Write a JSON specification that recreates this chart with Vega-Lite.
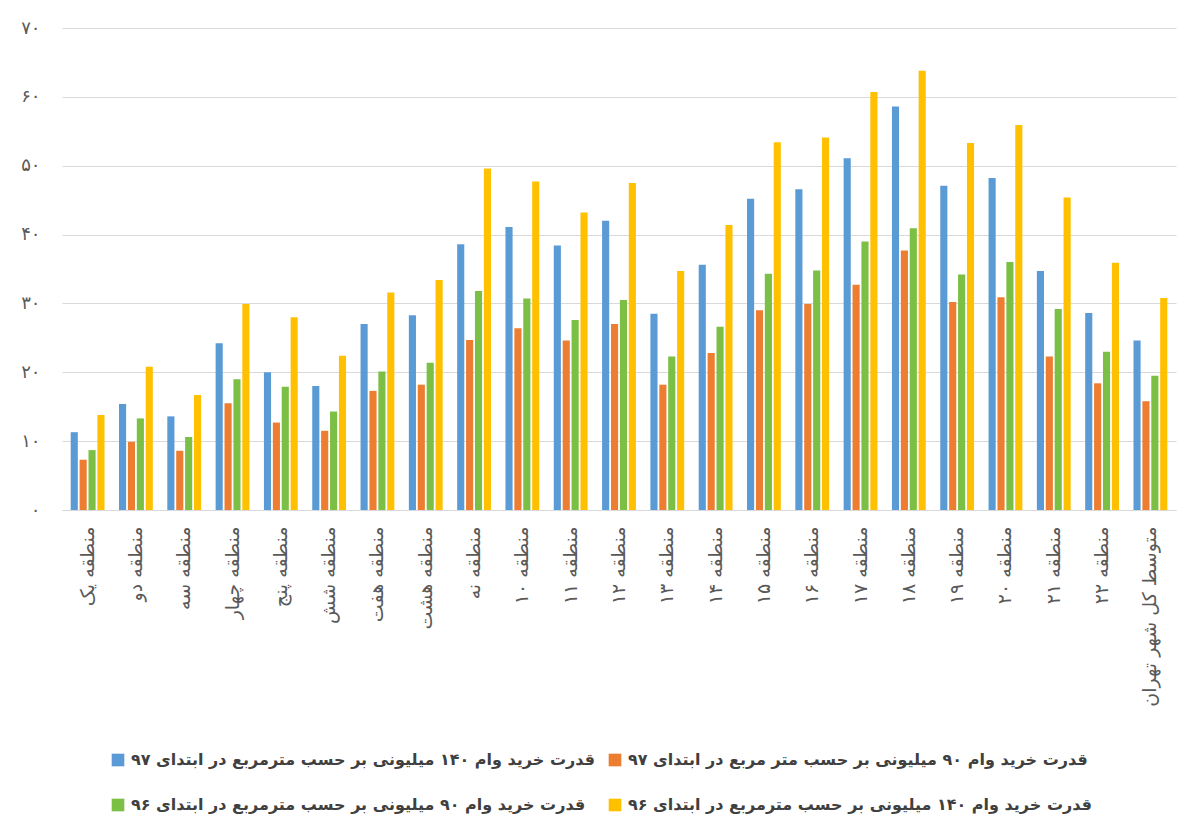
{
  "$schema": "https://vega.github.io/schema/vega-lite/v6.json",
  "autosize": "none",
  "width": 1114,
  "height": 482,
  "padding": {"left": 62, "top": 28, "right": 24, "bottom": 330},
  "background": "#ffffff",
  "config": {
    "view": {"stroke": null},
    "font": "DejaVu Sans",
    "axis": {"labelFont": "DejaVu Sans", "labelColor": "#595959", "gridColor": "#d9d9d9", "domainColor": "#d9d9d9"},
    "legend": {"labelFont": "DejaVu Sans", "labelColor": "#404040"}
  },
  "data": {
    "values": [
      {"region": "منطقه یک", "series": "قدرت خرید وام ۱۴۰ میلیونی بر حسب مترمربع در ابتدای ۹۷", "value": 11.3},
      {"region": "منطقه یک", "series": "قدرت خرید وام ۹۰ میلیونی بر حسب متر مربع در ابتدای ۹۷", "value": 7.3},
      {"region": "منطقه یک", "series": "قدرت خرید وام ۹۰ میلیونی بر حسب مترمربع در ابتدای ۹۶", "value": 8.7},
      {"region": "منطقه یک", "series": "قدرت خرید وام ۱۴۰ میلیونی بر حسب مترمربع در ابتدای ۹۶", "value": 13.8},
      {"region": "منطقه دو", "series": "قدرت خرید وام ۱۴۰ میلیونی بر حسب مترمربع در ابتدای ۹۷", "value": 15.4},
      {"region": "منطقه دو", "series": "قدرت خرید وام ۹۰ میلیونی بر حسب متر مربع در ابتدای ۹۷", "value": 9.9},
      {"region": "منطقه دو", "series": "قدرت خرید وام ۹۰ میلیونی بر حسب مترمربع در ابتدای ۹۶", "value": 13.3},
      {"region": "منطقه دو", "series": "قدرت خرید وام ۱۴۰ میلیونی بر حسب مترمربع در ابتدای ۹۶", "value": 20.8},
      {"region": "منطقه سه", "series": "قدرت خرید وام ۱۴۰ میلیونی بر حسب مترمربع در ابتدای ۹۷", "value": 13.6},
      {"region": "منطقه سه", "series": "قدرت خرید وام ۹۰ میلیونی بر حسب متر مربع در ابتدای ۹۷", "value": 8.6},
      {"region": "منطقه سه", "series": "قدرت خرید وام ۹۰ میلیونی بر حسب مترمربع در ابتدای ۹۶", "value": 10.6},
      {"region": "منطقه سه", "series": "قدرت خرید وام ۱۴۰ میلیونی بر حسب مترمربع در ابتدای ۹۶", "value": 16.7},
      {"region": "منطقه چهار", "series": "قدرت خرید وام ۱۴۰ میلیونی بر حسب مترمربع در ابتدای ۹۷", "value": 24.2},
      {"region": "منطقه چهار", "series": "قدرت خرید وام ۹۰ میلیونی بر حسب متر مربع در ابتدای ۹۷", "value": 15.5},
      {"region": "منطقه چهار", "series": "قدرت خرید وام ۹۰ میلیونی بر حسب مترمربع در ابتدای ۹۶", "value": 19.0},
      {"region": "منطقه چهار", "series": "قدرت خرید وام ۱۴۰ میلیونی بر حسب مترمربع در ابتدای ۹۶", "value": 29.9},
      {"region": "منطقه پنج", "series": "قدرت خرید وام ۱۴۰ میلیونی بر حسب مترمربع در ابتدای ۹۷", "value": 20.0},
      {"region": "منطقه پنج", "series": "قدرت خرید وام ۹۰ میلیونی بر حسب متر مربع در ابتدای ۹۷", "value": 12.7},
      {"region": "منطقه پنج", "series": "قدرت خرید وام ۹۰ میلیونی بر حسب مترمربع در ابتدای ۹۶", "value": 17.9},
      {"region": "منطقه پنج", "series": "قدرت خرید وام ۱۴۰ میلیونی بر حسب مترمربع در ابتدای ۹۶", "value": 28.0},
      {"region": "منطقه شش", "series": "قدرت خرید وام ۱۴۰ میلیونی بر حسب مترمربع در ابتدای ۹۷", "value": 18.0},
      {"region": "منطقه شش", "series": "قدرت خرید وام ۹۰ میلیونی بر حسب متر مربع در ابتدای ۹۷", "value": 11.5},
      {"region": "منطقه شش", "series": "قدرت خرید وام ۹۰ میلیونی بر حسب مترمربع در ابتدای ۹۶", "value": 14.3},
      {"region": "منطقه شش", "series": "قدرت خرید وام ۱۴۰ میلیونی بر حسب مترمربع در ابتدای ۹۶", "value": 22.4},
      {"region": "منطقه هفت", "series": "قدرت خرید وام ۱۴۰ میلیونی بر حسب مترمربع در ابتدای ۹۷", "value": 27.0},
      {"region": "منطقه هفت", "series": "قدرت خرید وام ۹۰ میلیونی بر حسب متر مربع در ابتدای ۹۷", "value": 17.3},
      {"region": "منطقه هفت", "series": "قدرت خرید وام ۹۰ میلیونی بر حسب مترمربع در ابتدای ۹۶", "value": 20.1},
      {"region": "منطقه هفت", "series": "قدرت خرید وام ۱۴۰ میلیونی بر حسب مترمربع در ابتدای ۹۶", "value": 31.6},
      {"region": "منطقه هشت", "series": "قدرت خرید وام ۱۴۰ میلیونی بر حسب مترمربع در ابتدای ۹۷", "value": 28.3},
      {"region": "منطقه هشت", "series": "قدرت خرید وام ۹۰ میلیونی بر حسب متر مربع در ابتدای ۹۷", "value": 18.2},
      {"region": "منطقه هشت", "series": "قدرت خرید وام ۹۰ میلیونی بر حسب مترمربع در ابتدای ۹۶", "value": 21.4},
      {"region": "منطقه هشت", "series": "قدرت خرید وام ۱۴۰ میلیونی بر حسب مترمربع در ابتدای ۹۶", "value": 33.4},
      {"region": "منطقه نه", "series": "قدرت خرید وام ۱۴۰ میلیونی بر حسب مترمربع در ابتدای ۹۷", "value": 38.6},
      {"region": "منطقه نه", "series": "قدرت خرید وام ۹۰ میلیونی بر حسب متر مربع در ابتدای ۹۷", "value": 24.7},
      {"region": "منطقه نه", "series": "قدرت خرید وام ۹۰ میلیونی بر حسب مترمربع در ابتدای ۹۶", "value": 31.8},
      {"region": "منطقه نه", "series": "قدرت خرید وام ۱۴۰ میلیونی بر حسب مترمربع در ابتدای ۹۶", "value": 49.6},
      {"region": "منطقه ۱۰", "series": "قدرت خرید وام ۱۴۰ میلیونی بر حسب مترمربع در ابتدای ۹۷", "value": 41.1},
      {"region": "منطقه ۱۰", "series": "قدرت خرید وام ۹۰ میلیونی بر حسب متر مربع در ابتدای ۹۷", "value": 26.4},
      {"region": "منطقه ۱۰", "series": "قدرت خرید وام ۹۰ میلیونی بر حسب مترمربع در ابتدای ۹۶", "value": 30.7},
      {"region": "منطقه ۱۰", "series": "قدرت خرید وام ۱۴۰ میلیونی بر حسب مترمربع در ابتدای ۹۶", "value": 47.7},
      {"region": "منطقه ۱۱", "series": "قدرت خرید وام ۱۴۰ میلیونی بر حسب مترمربع در ابتدای ۹۷", "value": 38.4},
      {"region": "منطقه ۱۱", "series": "قدرت خرید وام ۹۰ میلیونی بر حسب متر مربع در ابتدای ۹۷", "value": 24.6},
      {"region": "منطقه ۱۱", "series": "قدرت خرید وام ۹۰ میلیونی بر حسب مترمربع در ابتدای ۹۶", "value": 27.6},
      {"region": "منطقه ۱۱", "series": "قدرت خرید وام ۱۴۰ میلیونی بر حسب مترمربع در ابتدای ۹۶", "value": 43.2},
      {"region": "منطقه ۱۲", "series": "قدرت خرید وام ۱۴۰ میلیونی بر حسب مترمربع در ابتدای ۹۷", "value": 42.0},
      {"region": "منطقه ۱۲", "series": "قدرت خرید وام ۹۰ میلیونی بر حسب متر مربع در ابتدای ۹۷", "value": 27.0},
      {"region": "منطقه ۱۲", "series": "قدرت خرید وام ۹۰ میلیونی بر حسب مترمربع در ابتدای ۹۶", "value": 30.5},
      {"region": "منطقه ۱۲", "series": "قدرت خرید وام ۱۴۰ میلیونی بر حسب مترمربع در ابتدای ۹۶", "value": 47.5},
      {"region": "منطقه ۱۳", "series": "قدرت خرید وام ۱۴۰ میلیونی بر حسب مترمربع در ابتدای ۹۷", "value": 28.5},
      {"region": "منطقه ۱۳", "series": "قدرت خرید وام ۹۰ میلیونی بر حسب متر مربع در ابتدای ۹۷", "value": 18.2},
      {"region": "منطقه ۱۳", "series": "قدرت خرید وام ۹۰ میلیونی بر حسب مترمربع در ابتدای ۹۶", "value": 22.3},
      {"region": "منطقه ۱۳", "series": "قدرت خرید وام ۱۴۰ میلیونی بر حسب مترمربع در ابتدای ۹۶", "value": 34.7},
      {"region": "منطقه ۱۴", "series": "قدرت خرید وام ۱۴۰ میلیونی بر حسب مترمربع در ابتدای ۹۷", "value": 35.6},
      {"region": "منطقه ۱۴", "series": "قدرت خرید وام ۹۰ میلیونی بر حسب متر مربع در ابتدای ۹۷", "value": 22.8},
      {"region": "منطقه ۱۴", "series": "قدرت خرید وام ۹۰ میلیونی بر حسب مترمربع در ابتدای ۹۶", "value": 26.6},
      {"region": "منطقه ۱۴", "series": "قدرت خرید وام ۱۴۰ میلیونی بر حسب مترمربع در ابتدای ۹۶", "value": 41.4},
      {"region": "منطقه ۱۵", "series": "قدرت خرید وام ۱۴۰ میلیونی بر حسب مترمربع در ابتدای ۹۷", "value": 45.2},
      {"region": "منطقه ۱۵", "series": "قدرت خرید وام ۹۰ میلیونی بر حسب متر مربع در ابتدای ۹۷", "value": 29.0},
      {"region": "منطقه ۱۵", "series": "قدرت خرید وام ۹۰ میلیونی بر حسب مترمربع در ابتدای ۹۶", "value": 34.3},
      {"region": "منطقه ۱۵", "series": "قدرت خرید وام ۱۴۰ میلیونی بر حسب مترمربع در ابتدای ۹۶", "value": 53.4},
      {"region": "منطقه ۱۶", "series": "قدرت خرید وام ۱۴۰ میلیونی بر حسب مترمربع در ابتدای ۹۷", "value": 46.6},
      {"region": "منطقه ۱۶", "series": "قدرت خرید وام ۹۰ میلیونی بر حسب متر مربع در ابتدای ۹۷", "value": 29.9},
      {"region": "منطقه ۱۶", "series": "قدرت خرید وام ۹۰ میلیونی بر حسب مترمربع در ابتدای ۹۶", "value": 34.8},
      {"region": "منطقه ۱۶", "series": "قدرت خرید وام ۱۴۰ میلیونی بر حسب مترمربع در ابتدای ۹۶", "value": 54.1},
      {"region": "منطقه ۱۷", "series": "قدرت خرید وام ۱۴۰ میلیونی بر حسب مترمربع در ابتدای ۹۷", "value": 51.1},
      {"region": "منطقه ۱۷", "series": "قدرت خرید وام ۹۰ میلیونی بر حسب متر مربع در ابتدای ۹۷", "value": 32.7},
      {"region": "منطقه ۱۷", "series": "قدرت خرید وام ۹۰ میلیونی بر حسب مترمربع در ابتدای ۹۶", "value": 39.0},
      {"region": "منطقه ۱۷", "series": "قدرت خرید وام ۱۴۰ میلیونی بر حسب مترمربع در ابتدای ۹۶", "value": 60.7},
      {"region": "منطقه ۱۸", "series": "قدرت خرید وام ۱۴۰ میلیونی بر حسب مترمربع در ابتدای ۹۷", "value": 58.6},
      {"region": "منطقه ۱۸", "series": "قدرت خرید وام ۹۰ میلیونی بر حسب متر مربع در ابتدای ۹۷", "value": 37.7},
      {"region": "منطقه ۱۸", "series": "قدرت خرید وام ۹۰ میلیونی بر حسب مترمربع در ابتدای ۹۶", "value": 40.9},
      {"region": "منطقه ۱۸", "series": "قدرت خرید وام ۱۴۰ میلیونی بر حسب مترمربع در ابتدای ۹۶", "value": 63.8},
      {"region": "منطقه ۱۹", "series": "قدرت خرید وام ۱۴۰ میلیونی بر حسب مترمربع در ابتدای ۹۷", "value": 47.1},
      {"region": "منطقه ۱۹", "series": "قدرت خرید وام ۹۰ میلیونی بر حسب متر مربع در ابتدای ۹۷", "value": 30.2},
      {"region": "منطقه ۱۹", "series": "قدرت خرید وام ۹۰ میلیونی بر حسب مترمربع در ابتدای ۹۶", "value": 34.2},
      {"region": "منطقه ۱۹", "series": "قدرت خرید وام ۱۴۰ میلیونی بر حسب مترمربع در ابتدای ۹۶", "value": 53.3},
      {"region": "منطقه ۲۰", "series": "قدرت خرید وام ۱۴۰ میلیونی بر حسب مترمربع در ابتدای ۹۷", "value": 48.2},
      {"region": "منطقه ۲۰", "series": "قدرت خرید وام ۹۰ میلیونی بر حسب متر مربع در ابتدای ۹۷", "value": 30.9},
      {"region": "منطقه ۲۰", "series": "قدرت خرید وام ۹۰ میلیونی بر حسب مترمربع در ابتدای ۹۶", "value": 36.0},
      {"region": "منطقه ۲۰", "series": "قدرت خرید وام ۱۴۰ میلیونی بر حسب مترمربع در ابتدای ۹۶", "value": 55.9},
      {"region": "منطقه ۲۱", "series": "قدرت خرید وام ۱۴۰ میلیونی بر حسب مترمربع در ابتدای ۹۷", "value": 34.7},
      {"region": "منطقه ۲۱", "series": "قدرت خرید وام ۹۰ میلیونی بر حسب متر مربع در ابتدای ۹۷", "value": 22.3},
      {"region": "منطقه ۲۱", "series": "قدرت خرید وام ۹۰ میلیونی بر حسب مترمربع در ابتدای ۹۶", "value": 29.2},
      {"region": "منطقه ۲۱", "series": "قدرت خرید وام ۱۴۰ میلیونی بر حسب مترمربع در ابتدای ۹۶", "value": 45.4},
      {"region": "منطقه ۲۲", "series": "قدرت خرید وام ۱۴۰ میلیونی بر حسب مترمربع در ابتدای ۹۷", "value": 28.6},
      {"region": "منطقه ۲۲", "series": "قدرت خرید وام ۹۰ میلیونی بر حسب متر مربع در ابتدای ۹۷", "value": 18.4},
      {"region": "منطقه ۲۲", "series": "قدرت خرید وام ۹۰ میلیونی بر حسب مترمربع در ابتدای ۹۶", "value": 23.0},
      {"region": "منطقه ۲۲", "series": "قدرت خرید وام ۱۴۰ میلیونی بر حسب مترمربع در ابتدای ۹۶", "value": 35.9},
      {"region": "متوسط کل شهر تهران", "series": "قدرت خرید وام ۱۴۰ میلیونی بر حسب مترمربع در ابتدای ۹۷", "value": 24.6},
      {"region": "متوسط کل شهر تهران", "series": "قدرت خرید وام ۹۰ میلیونی بر حسب متر مربع در ابتدای ۹۷", "value": 15.8},
      {"region": "متوسط کل شهر تهران", "series": "قدرت خرید وام ۹۰ میلیونی بر حسب مترمربع در ابتدای ۹۶", "value": 19.5},
      {"region": "متوسط کل شهر تهران", "series": "قدرت خرید وام ۱۴۰ میلیونی بر حسب مترمربع در ابتدای ۹۶", "value": 30.8}
    ]
  },
  "mark": {"type": "bar"},
  "encoding": {
    "x": {
      "field": "region",
      "type": "nominal",
      "sort": null,
      "scale": {"paddingInner": 0.3, "paddingOuter": 0.18},
      "axis": {
        "title": null,
        "labelAngle": -90,
        "labelFontSize": 19,
        "labelPadding": 16,
        "ticks": false,
        "domain": true,
        "labelLimit": 300
      }
    },
    "xOffset": {
      "field": "series",
      "type": "nominal",
      "sort": null,
      "scale": {"paddingInner": 0.2, "paddingOuter": 0}
    },
    "y": {
      "field": "value",
      "type": "quantitative",
      "scale": {"domain": [0, 70], "nice": false},
      "axis": {
        "title": null,
        "values": [0, 10, 20, 30, 40, 50, 60, 70],
        "labelExpr": "['۰', '۱۰', '۲۰', '۳۰', '۴۰', '۵۰', '۶۰', '۷۰'][round(datum.value / 10)]",
        "labelFontSize": 18,
        "labelPadding": 22,
        "ticks": false,
        "domain": false,
        "grid": true
      }
    },
    "color": {
      "field": "series",
      "type": "nominal",
      "scale": {
        "domain": [
          "قدرت خرید وام ۱۴۰ میلیونی بر حسب مترمربع در ابتدای ۹۷",
          "قدرت خرید وام ۹۰ میلیونی بر حسب متر مربع در ابتدای ۹۷",
          "قدرت خرید وام ۹۰ میلیونی بر حسب مترمربع در ابتدای ۹۶",
          "قدرت خرید وام ۱۴۰ میلیونی بر حسب مترمربع در ابتدای ۹۶"
        ],
        "range": ["#5b9bd5", "#ed7d31", "#7cbf45", "#ffc000"]
      },
      "legend": {
        "title": null,
        "orient": "none",
        "legendX": 48,
        "legendY": 724,
        "direction": "horizontal",
        "columns": 2,
        "columnPadding": 12,
        "rowPadding": 29,
        "symbolType": "square",
        "symbolSize": 160,
        "symbolStrokeWidth": 0,
        "labelFontSize": 16,
        "labelFontWeight": "bold",
        "labelOffset": 5,
        "labelLimit": 600
      }
    }
  }
}
